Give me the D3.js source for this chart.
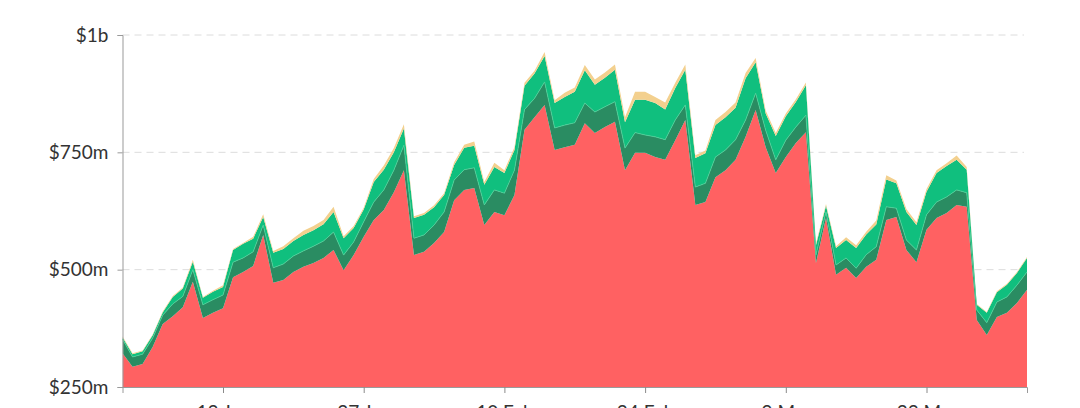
<!DOCTYPE html>
<html>
<head>
<meta charset="utf-8">
<script src="https://cdn.jsdelivr.net/npm/d3@7"></script>
<style>
  html, body { margin: 0; padding: 0; background: #fff; }
  svg { display: block; font-family: Lato, "Open Sans", sans-serif; }
</style>
</head>
<body>
<svg id="chart" width="1080" height="408"></svg>
<script>
// ---- data (values in millions of USD), daily from 3 Jan 2020 ----
const startDate = "2020-01-03";
const seriesKeys = ["volumeA", "volumeB", "volumeC", "volumeD"];
const seriesColors = ["#ff6162", "#2a8c62", "#10bf7e", "#f3d08e"];

const volumeA = [322,293,299,335,384,401,420,474,397,408,418,484,495,508,574,472,478,495,506,514,525,542,499,531,570,606,627,665,712,531,538,557,580,648,670,674,595,623,616,659,798,825,851,755,761,766,812,791,804,815,712,749,749,740,734,776,819,638,644,697,712,734,783,840,761,706,740,770,793,514,610,489,504,482,506,521,606,612,542,516,585,610,621,638,634,393,361,399,408,429,457];
const volumeB = [30,21,21,19,19,26,23,26,28,28,28,32,30,30,21,32,34,34,34,36,36,38,32,28,32,38,43,47,53,36,36,38,43,43,43,43,43,47,47,53,43,40,49,47,47,47,43,45,43,43,47,43,38,43,43,43,32,38,40,43,43,43,36,36,36,28,36,34,36,17,13,21,21,21,26,28,28,19,21,26,32,34,34,32,30,21,26,32,34,38,38];
const volumeC = [4,6,6,6,6,15,17,17,15,17,17,26,30,28,17,32,32,32,34,34,36,43,36,30,26,43,43,38,36,43,43,38,36,32,47,47,43,49,43,43,51,53,55,53,60,66,70,58,62,68,55,70,75,72,64,68,75,62,64,68,70,68,89,66,36,51,51,53,64,21,13,36,38,43,43,47,58,53,60,53,49,62,66,64,49,11,21,21,26,26,30];
const volumeD = [2,2,2,2,2,2,2,4,2,2,4,2,2,4,6,4,6,6,9,9,9,11,4,4,4,6,9,9,9,4,4,4,4,6,6,9,6,9,6,6,6,6,9,6,9,9,11,11,11,11,11,17,17,13,15,11,11,6,6,11,11,11,11,9,6,6,6,6,6,4,4,4,6,6,6,9,9,6,6,6,6,6,6,9,6,2,2,2,2,2,2];

const yTickValues = [250, 500, 750, 1000];
const yTickLabels = ["$250m", "$500m", "$750m", "$1b"];
const xTickDates = ["2020-01-13", "2020-01-27", "2020-02-10", "2020-02-24", "2020-03-09", "2020-03-23"];
const yDomain = [250, 1000];

// ---- layout ----
const margin = { top: 35, right: 53, bottom: 21, left: 122.5 };
const W = 1080, H = 408;
const innerW = W - margin.left - margin.right;
const innerH = H - margin.top - margin.bottom;

const parse = d3.utcParse("%Y-%m-%d");
const start = parse(startDate);
const dates = volumeA.map((_, i) => d3.utcDay.offset(start, i));
const table = dates.map((d, i) => ({
  date: d,
  volumeA: volumeA[i], volumeB: volumeB[i], volumeC: volumeC[i], volumeD: volumeD[i]
}));

const x = d3.scaleUtc().domain(d3.extent(dates)).range([0, innerW]);
const y = d3.scaleLinear().domain(yDomain).range([innerH, 0]);

const svg = d3.select("#chart");
const g = svg.append("g").attr("transform", `translate(${margin.left},${margin.top})`);

svg.append("defs").append("clipPath").attr("id", "plotClip")
  .append("rect").attr("x", 0).attr("y", -10).attr("width", innerW).attr("height", innerH + 10);

// grid lines
g.append("g").selectAll("line").data(yTickValues.slice(1)).join("line")
  .attr("x1", 0).attr("x2", innerW - 3)
  .attr("y1", d => y(d)).attr("y2", d => y(d))
  .attr("stroke", "#dcdcdc").attr("stroke-width", 1)
  .attr("stroke-dasharray", "7,5");

// stacked areas
const stack = d3.stack().keys(seriesKeys);
const layers = stack(table);
const area = d3.area()
  .x(d => x(d.data.date))
  .y0(d => y(d[0]))
  .y1(d => y(d[1]));

g.append("g").attr("clip-path", "url(#plotClip)")
  .selectAll("path").data(layers).join("path")
  .attr("d", area)
  .attr("fill", (d, i) => seriesColors[i]);

// subtle light line on top of the dark green band
const topLine = d3.line().x(d => x(d.data.date)).y(d => y(d[1]));
g.append("path").datum(layers[1])
  .attr("d", topLine)
  .attr("fill", "none")
  .attr("stroke", "#4fcf98")
  .attr("stroke-width", 1)
  .attr("opacity", 0.8);

// x axis
const xAxis = d3.axisBottom(x)
  .tickValues(xTickDates.map(parse))
  .tickFormat(d3.utcFormat("%-d %b"))
  .tickSize(6)
  .tickPadding(13);
const gx = g.append("g").attr("transform", `translate(0,${innerH})`).call(xAxis);
gx.select(".domain").attr("stroke", "#9a9a9a");
gx.selectAll(".tick line").attr("stroke", "#8a8a8a");
gx.selectAll("text").attr("font-size", 19).attr("fill", "#333").attr("font-family", "Lato");

// y axis
const yAxis = d3.axisLeft(y)
  .tickValues(yTickValues)
  .tickFormat((d, i) => yTickLabels[i])
  .tickSize(5)
  .tickPadding(9);
const gy = g.append("g").call(yAxis);
gy.select(".domain").attr("stroke", "#999");
gy.selectAll(".tick line").attr("stroke", "#999");
gy.selectAll("text").attr("font-size", 19).attr("fill", "#333").attr("font-family", "Lato");
</script>
</body>
</html>
